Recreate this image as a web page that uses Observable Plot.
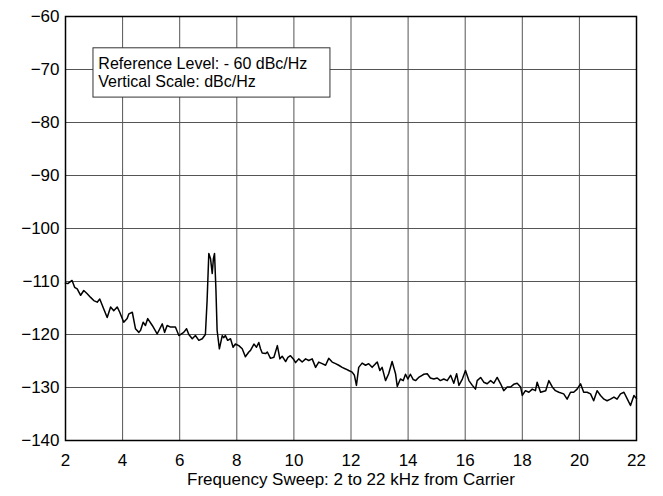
<!DOCTYPE html>
<html>
<head>
<meta charset="utf-8">
<script src="https://cdn.jsdelivr.net/npm/d3@7"></script>
<script src="https://cdn.jsdelivr.net/npm/@observablehq/plot@0.6"></script>
<style>
  html, body { margin: 0; padding: 0; background: white; }
</style>
</head>
<body>
<div id="chart"></div>
<script>
const freq = [2.0,2.08,2.23,2.32,2.41,2.53,2.64,2.76,2.88,2.99,3.11,3.20,3.34,3.46,3.58,3.69,3.81,3.90,4.04,4.16,4.22,4.34,4.45,4.57,4.63,4.72,4.80,4.88,5.04,5.21,5.39,5.47,5.56,5.68,5.85,5.97,6.14,6.24,6.32,6.44,6.55,6.67,6.79,6.90,
6.96,7.02,7.08,7.14,7.18,7.22,7.27,7.31,7.39,7.49,7.54,7.60,7.68,7.78,7.87,7.95,8.07,8.19,8.30,8.42,
8.48,8.60,8.69,8.77,8.83,8.89,9.01,9.07,9.18,9.30,9.42,9.51,9.59,9.65,9.71,9.79,9.88,9.98,10.06,10.17,10.29,10.41,10.52,10.64,10.76,10.87,10.99,11.11,11.22,11.34,11.46,11.57,11.69,11.81,11.92,12.04,12.12,12.19,12.27,12.39,12.51,12.62,12.74,12.86,12.92,13.01,13.09,13.21,13.32,13.44,13.56,13.62,13.73,13.83,13.91,13.99,14.08,14.18,14.26,14.37,14.49,14.55,14.67,14.78,14.90,15.02,15.13,15.25,15.37,15.49,15.60,15.70,15.78,15.90,16.01,16.13,16.25,16.36,16.42,16.54,
16.65,16.77,16.89,17.00,17.12,17.24,17.35,17.47,17.59,17.70,17.82,17.94,18.00,18.11,18.23,18.35,18.46,18.52,18.64,18.82,18.93,19.05,19.16,19.28,19.45,19.57,19.69,19.80,19.92,20.04,20.15,20.27,20.39,20.50,20.62,20.74,20.86,20.97,21.09,21.21,21.32,21.44,21.56,21.68,21.79,21.91,22.0];
const level = [-110.3,-110.4,-109.8,-111.1,-111.4,-112.6,-111.7,-112.3,-113.0,-113.6,-113.9,-113.3,-115.2,-116.8,-114.8,-115.5,-114.8,-115.8,-117.7,-117.0,-116.1,-115.8,-118.9,-119.6,-119.2,-117.7,-118.3,-117.0,-118.3,-119.9,-118.0,-119.6,-118.3,-118.6,-118.6,-120.2,-119.6,-118.9,-120.0,-120.8,-120.2,-121.1,-120.8,-120.0,
-113.6,-104.7,-105.7,-108.5,-105.7,-104.7,-111.7,-119.2,-122.7,-120.2,-120.6,-120.2,-121.1,-120.8,-122.4,-121.8,-122.1,-122.7,-124.2,-123.3,
-123.0,-121.8,-122.4,-121.5,-122.7,-123.5,-123.6,-123.3,-124.5,-124.3,-122.1,-124.6,-124.1,-124.6,-125.1,-124.3,-124.0,-124.6,-125.3,-124.6,-125.2,-124.6,-124.9,-124.6,-126.2,-125.2,-125.5,-125.8,-124.5,-125.2,-125.5,-125.8,-126.2,-126.5,-126.8,-127.1,-127.7,-129.6,-126.2,-125.4,-125.8,-125.5,-126.2,-125.5,-125.2,-126.8,-126.2,-128.7,-127.4,-125.1,-127.4,-129.8,-128.4,-128.7,-127.5,-128.4,-127.5,-128.5,-128.7,-128.1,-127.7,-127.5,-127.4,-128.2,-128.4,-128.2,-128.7,-128.4,-128.7,-127.7,-129.2,-127.4,-129.6,-128.4,-126.8,-128.7,-129.6,-130.3,-128.7,-128.1,
-129.0,-129.3,-128.7,-129.2,-128.1,-129.3,-130.6,-129.9,-129.9,-129.4,-129.2,-129.9,-131.5,-130.6,-130.9,-130.3,-130.6,-129.0,-130.9,-130.6,-128.7,-129.9,-130.6,-130.9,-131.2,-132.2,-130.9,-130.9,-130.3,-129.3,-130.9,-130.9,-131.2,-132.5,-130.6,-131.5,-132.2,-132.5,-132.2,-131.8,-132.2,-131.2,-130.9,-132.2,-133.4,-131.5,-132.1];
const xTicks = [2,4,6,8,10,12,14,16,18,20,22];
const yTicks = [-140,-130,-120,-110,-100,-90,-80,-70,-60];
const xLabel = "Frequency Sweep: 2 to 22 kHz from Carrier";
const noteLines = ["Reference Level: - 60 dBc/Hz", "Vertical Scale: dBc/Hz"];
const noteBox = [{x1: 2.98, x2: 11.28, y1: -66.0, y2: -75.3}];
const notePos = [{x: 3.15, y: -68.9}, {x: 3.15, y: -72.3}];

const data = freq.map((f, i) => ({f, v: level[i]}));
const notes = noteLines.map((t, i) => ({text: t, x: notePos[i].x, y: notePos[i].y}));

const chart = Plot.plot({
  width: 663,
  height: 496,
  marginLeft: 65,
  marginRight: 27,
  marginTop: 16,
  marginBottom: 56,
  style: {fontFamily: "'Liberation Sans', Arial, sans-serif", fontSize: "17px", background: "white", color: "black"},
  x: {domain: [2, 22], ticks: xTicks, tickSize: 0, tickPadding: 13, label: null},
  y: {domain: [-140, -60], ticks: yTicks, tickSize: 0, tickPadding: 6, label: null},
  marks: [
    Plot.ruleX(xTicks, {stroke: "#555", strokeWidth: 1}),
    Plot.ruleY(yTicks, {stroke: "#555", strokeWidth: 1}),
    Plot.line(data, {x: "f", y: "v", stroke: "black", strokeWidth: 1.5}),
    Plot.rect(noteBox, {x1: "x1", x2: "x2", y1: "y1", y2: "y2", fill: "white", stroke: "#333", strokeWidth: 1}),
    Plot.text(notes, {x: "x", y: "y", text: "text", textAnchor: "start", lineAnchor: "middle", fontSize: 16, fill: "black"}),
    Plot.text([xLabel], {text: d => d, frameAnchor: "bottom", dy: 44, fontSize: 17, fill: "black"}),
    Plot.frame({stroke: "black", strokeWidth: 1.5})
  ]
});
document.getElementById("chart").appendChild(chart);
</script>
</body>
</html>
